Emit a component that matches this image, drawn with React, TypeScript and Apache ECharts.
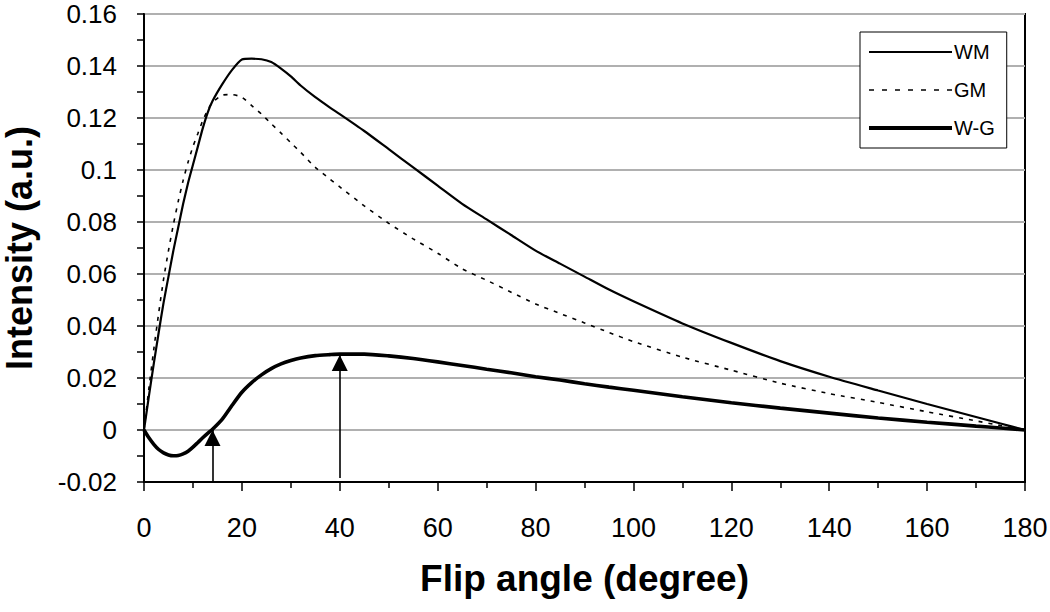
import React, { useEffect, useRef } from "react";
import * as echarts from "echarts";

const angles = [0, 1, 2, 3, 4, 5, 6, 7, 8, 9, 10, 11, 12, 13, 14, 16, 18, 20, 22, 24, 26, 28, 30, 32, 35, 38, 40, 45, 50, 55, 60, 65, 70, 75, 80, 85, 90, 95, 100, 110, 120, 130, 140, 150, 160, 170, 175, 180];

const wm = [0, 0.013, 0.0255, 0.0375, 0.049, 0.059, 0.069, 0.078, 0.087, 0.095, 0.102, 0.109, 0.116, 0.122, 0.1265, 0.133, 0.1385, 0.1425, 0.1428, 0.1426, 0.1415, 0.139, 0.136, 0.1325, 0.128, 0.124, 0.1215, 0.115, 0.108, 0.101, 0.094, 0.087, 0.081, 0.075, 0.069, 0.064, 0.059, 0.054, 0.0495, 0.041, 0.0335, 0.0265, 0.0205, 0.0152, 0.010, 0.005, 0.0025, 0];

const gm = [0, 0.016, 0.031, 0.045, 0.058, 0.069, 0.079, 0.088, 0.096, 0.103, 0.109, 0.114, 0.119, 0.123, 0.126, 0.1288, 0.129, 0.128, 0.1248, 0.1215, 0.1178, 0.1142, 0.1105, 0.1068, 0.101, 0.0965, 0.0935, 0.0862, 0.0795, 0.0735, 0.068, 0.062, 0.0576, 0.053, 0.0485, 0.0448, 0.0412, 0.0375, 0.034, 0.028, 0.023, 0.018, 0.014, 0.0106, 0.007, 0.0035, 0.0017, 0];

const wg = [0, -0.003, -0.0055, -0.0075, -0.0088, -0.0096, -0.0099, -0.0098, -0.0092, -0.0082, -0.0066, -0.0048, -0.003, -0.0013, 0.0003, 0.0042, 0.0095, 0.0145, 0.0182, 0.0212, 0.0236, 0.0254, 0.0267, 0.0277, 0.0286, 0.029, 0.0292, 0.0292, 0.0285, 0.0275, 0.0262, 0.0248, 0.0234, 0.022, 0.0205, 0.0192, 0.0178, 0.0165, 0.0153, 0.0128, 0.0105, 0.0084, 0.0065, 0.0046, 0.003, 0.0015, 0.0008, 0];

const arrowX = [14, 40];
const arrowFrom = [-0.02, -0.0185];
const arrowTo = [0, 0.0288];

const FONT = "Liberation Sans, Arial, sans-serif";

function pairs(ys: number[]) {
  return angles.map((a, i) => [a, ys[i]]);
}

export default function App() {
  const ref = useRef<HTMLDivElement>(null);
  useEffect(() => {
    if (!ref.current) return;
    const chart = echarts.init(ref.current, undefined, { renderer: "svg" });
    chart.setOption({
      animation: false,
      backgroundColor: "#ffffff",
      textStyle: { fontFamily: FONT },
      grid: {
        left: 144,
        right: 25,
        top: 14,
        bottom: 130,
        outerBoundsMode: "none",
        containLabel: false,
        show: true,
        borderColor: "#000",
        borderWidth: 2,
        backgroundColor: "transparent",
      },
      legend: {
        orient: "vertical",
        left: 860,
        top: 32,
        padding: [10, 12, 10, 7],
        itemWidth: 83,
        itemHeight: 14,
        itemGap: 18,
        borderColor: "#000",
        borderWidth: 1,
        backgroundColor: "#fff",
        itemStyle: { opacity: 0 },
        textStyle: { fontFamily: FONT, fontSize: 20, color: "#000", padding: [0, 0, 0, -3] },
        data: [
          { name: "WM", lineStyle: { width: 2.2, color: "#000", type: "solid" } },
          { name: "GM", lineStyle: { width: 1.6, color: "#000", type: [5, 8] } },
          { name: "W-G", lineStyle: { width: 4, color: "#000", type: "solid" } },
        ],
      },
      xAxis: {
        type: "value",
        min: 0,
        max: 180,
        interval: 20,
        name: "Flip angle (degree)",
        nameLocation: "middle",
        nameGap: 78,
        nameTextStyle: { fontFamily: FONT, fontSize: 37, fontWeight: "bold", color: "#000" },
        axisLine: { show: true, onZero: false, lineStyle: { color: "#000", width: 2 } },
        axisTick: { show: true, length: 9, lineStyle: { color: "#000", width: 1.5 } },
        minorTick: { show: true, splitNumber: 2, length: 6, lineStyle: { color: "#000", width: 1.5 } },
        axisLabel: { margin: 32, fontFamily: FONT, fontSize: 27, color: "#000" },
        splitLine: { show: false },
      },
      yAxis: {
        type: "value",
        min: -0.02,
        max: 0.16,
        interval: 0.02,
        name: "Intensity (a.u.)",
        nameLocation: "middle",
        nameGap: 107,
        nameTextStyle: { fontFamily: FONT, fontSize: 36, fontWeight: "bold", color: "#000" },
        axisLine: { show: true, onZero: false, lineStyle: { color: "#000", width: 2 } },
        axisTick: { show: true, length: 7, lineStyle: { color: "#000", width: 1.5 } },
        minorTick: { show: true, splitNumber: 2, length: 7, lineStyle: { color: "#000", width: 1.5 } },
        axisLabel: {
          margin: 27,
          fontFamily: FONT,
          fontSize: 26,
          lineHeight: 22,
          color: "#000",
          formatter: (v: number) => String(Number(v.toFixed(2))),
        },
        splitLine: { show: true, lineStyle: { color: "#b0b0b0", width: 2 } },
      },
      series: [
        {
          name: "WM",
          type: "line",
          data: pairs(wm),
          showSymbol: false,
          symbol: "none",
          smooth: 0.2,
          lineStyle: { color: "#000", width: 2.2 },
          itemStyle: { color: "#000" },
        },
        {
          name: "GM",
          type: "line",
          data: pairs(gm),
          showSymbol: false,
          symbol: "none",
          smooth: 0.2,
          lineStyle: { color: "#000", width: 1.6, type: [4, 6] },
          itemStyle: { color: "#000" },
        },
        {
          name: "W-G",
          type: "line",
          data: pairs(wg),
          showSymbol: false,
          symbol: "none",
          smooth: 0.2,
          lineStyle: { color: "#000", width: 3.6 },
          itemStyle: { color: "#000" },
          markLine: {
            silent: true,
            symbol: ["none", "triangle"],
            symbolSize: 16,
            symbolOffset: [[0, 0], [0, 8]],
            label: { show: false },
            lineStyle: { color: "#000", width: 1.6, type: "solid" },
            data: arrowX.map((x, i) => [
              { coord: [x, arrowFrom[i]] },
              { coord: [x, arrowTo[i]] },
            ]),
          },
        },
      ],
    });
    return () => chart.dispose();
  }, []);
  return <div ref={ref} style={{ position: "fixed", left: 0, top: 0, width: 1050, height: 612 }} />;
}
